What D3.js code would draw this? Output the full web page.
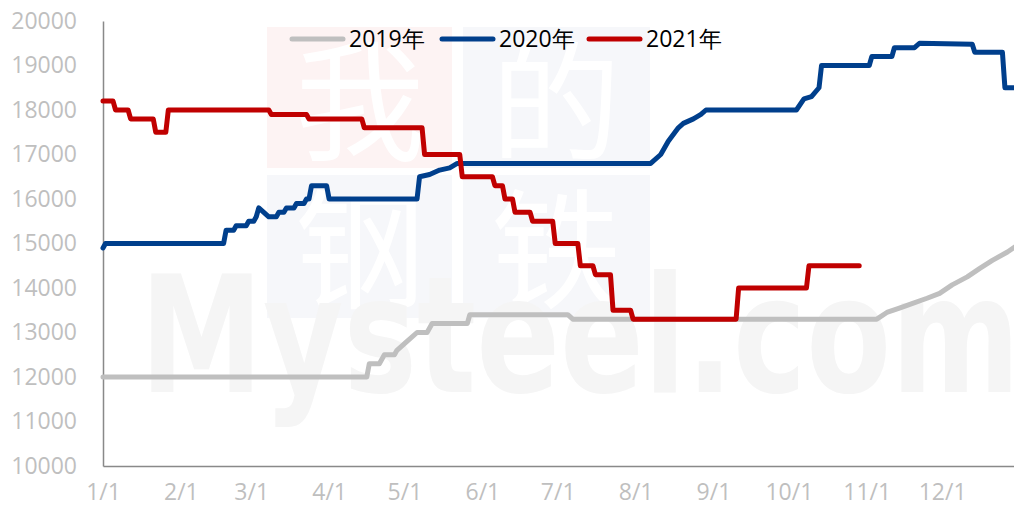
<!DOCTYPE html>
<html>
<head>
<meta charset="utf-8">
<script src="https://cdn.jsdelivr.net/npm/d3@7"></script>
<style>
  body { margin: 0; background: #fff; }
  svg { display: block; }
</style>
</head>
<body>
<svg id="chart" width="1014" height="513"></svg>
<script>
// day-of-year vertices, values in yuan
var series = ["2019年", "2020年", "2021年"];
var colors = ["#bfbfbf", "#003f8c", "#c00000"];

var days2019 = [0, 105, 106, 110, 112, 116, 117, 121, 125, 129, 131, 145, 146, 185, 187, 308, 312, 317, 322, 328, 333, 338, 344, 349, 354, 360, 365];
var vals2019 = [12000, 12000, 12300, 12300, 12500, 12500, 12600, 12800, 13000, 13000, 13200, 13200, 13400, 13400, 13300, 13300, 13450, 13550, 13650, 13770, 13880, 14070, 14250, 14440, 14620, 14810, 15000];

var days2020 = [0, 1, 48, 49, 52, 53, 57, 58, 60, 61, 62, 63, 66, 69, 70, 72, 73, 76, 77, 80, 81, 82, 83, 89, 90, 125, 126, 130, 134, 138, 141, 218, 222, 225, 229, 231, 235, 238, 240, 276, 279, 282, 285, 286, 305, 306, 314, 315, 323, 325, 346, 347, 358, 359, 365];
var vals2020 = [14900, 15000, 15000, 15300, 15300, 15400, 15400, 15500, 15500, 15600, 15800, 15750, 15600, 15600, 15700, 15700, 15800, 15800, 15900, 15900, 16000, 16000, 16300, 16300, 16000, 16000, 16500, 16550, 16650, 16700, 16800, 16800, 17000, 17300, 17600, 17700, 17800, 17900, 18000, 18000, 18250, 18300, 18500, 19000, 19000, 19200, 19200, 19400, 19400, 19500, 19480, 19300, 19300, 18500, 18500];

var days2021 = [0, 4, 5, 10, 11, 20, 21, 25, 26, 66, 67, 81, 82, 103, 104, 127, 128, 142, 143, 155, 156, 159, 160, 163, 164, 170, 171, 179, 180, 189, 190, 195, 196, 202, 203, 210, 211, 252, 253, 280, 281, 301];
var vals2021 = [18200, 18200, 18000, 18000, 17800, 17800, 17500, 17500, 18000, 18000, 17900, 17900, 17800, 17800, 17600, 17600, 17000, 17000, 16500, 16500, 16300, 16300, 16000, 16000, 15700, 15700, 15500, 15500, 15000, 15000, 14500, 14500, 14300, 14300, 13500, 13500, 13300, 13300, 14000, 14000, 14500, 14500];

var tickDays = [0, 31, 59, 90, 120, 151, 181, 212, 243, 273, 304, 334];
var tickLabels = ["1/1", "2/1", "3/1", "4/1", "5/1", "6/1", "7/1", "8/1", "9/1", "10/1", "11/1", "12/1"];
var yTicks = [10000, 11000, 12000, 13000, 14000, 15000, 16000, 17000, 18000, 19000, 20000];

var svg = d3.select("#chart");
var font = "'Open Sans', 'Liberation Sans', sans-serif";

var x = d3.scaleLinear().domain([0, 365]).range([103, 1020]);
var y = d3.scaleLinear().domain([10000, 20000]).range([466, 21]);

// faint watermark behind the chart
var wm = svg.append("g");
wm.append("rect").attr("x", 267).attr("y", 27).attr("width", 185).attr("height", 141).attr("fill", "#fdf3f3");
wm.append("rect").attr("x", 463).attr("y", 27).attr("width", 187).attr("height", 141).attr("fill", "#f6f7fa");
wm.append("rect").attr("x", 267).attr("y", 175).attr("width", 185).attr("height", 143).attr("fill", "#f6f7fa");
wm.append("rect").attr("x", 463).attr("y", 175).attr("width", 187).attr("height", 143).attr("fill", "#f6f7fa");
[["我", 360, 150], ["的", 556, 150], ["钢", 360, 298], ["铁", 556, 298]].forEach(function(c) {
  wm.append("text").attr("x", c[1]).attr("y", c[2]).attr("text-anchor", "middle")
    .attr("font-family", "'Noto Sans CJK SC', sans-serif")
    .attr("font-size", 130).attr("fill", "#ffffff").text(c[0]);
});
wm.append("text").attr("x", 140).attr("y", 392)
  .attr("font-family", "'DejaVu Sans', sans-serif").attr("font-weight", "bold")
  .attr("font-size", 162).attr("fill", "#f5f5f5")
  .attr("textLength", 880).attr("lengthAdjust", "spacingAndGlyphs")
  .text("Mysteel.com");

// axes
var yAxis = svg.append("g").attr("transform", "translate(103,0)")
  .call(d3.axisLeft(y).tickValues(yTicks).tickFormat(d3.format("d")).tickSize(0).tickPadding(26));
yAxis.select(".domain").attr("stroke", "#898989").attr("stroke-width", 1.5);
yAxis.selectAll("text").attr("font-family", font).attr("font-size", 23).attr("fill", "#bfbfbf");

var xAxis = svg.append("g").attr("transform", "translate(0,466)")
  .call(d3.axisBottom(x).tickValues(tickDays).tickFormat(function(d, i) { return tickLabels[i]; }).tickSize(0).tickPadding(18));
xAxis.select(".domain").attr("stroke", "#898989").attr("stroke-width", 1.5);
xAxis.selectAll("text").attr("font-family", font).attr("font-size", 23).attr("fill", "#bfbfbf");

// lines
var line = d3.line()
  .x(function(d) { return x(d[0]); })
  .y(function(d) { return y(d[1]); });

var allDays = [days2019, days2020, days2021];
var allVals = [vals2019, vals2020, vals2021];
allDays.forEach(function(ds, k) {
  var pts = ds.map(function(d, i) { return [d, allVals[k][i]]; });
  svg.append("path").datum(pts)
    .attr("d", line)
    .attr("fill", "none")
    .attr("stroke", colors[k])
    .attr("stroke-width", 5)
    .attr("stroke-linejoin", "round")
    .attr("stroke-linecap", "round");
});

// legend
var legX = [290, 440, 587];
series.forEach(function(s, k) {
  var g = svg.append("g").attr("transform", "translate(" + legX[k] + ",39)");
  g.append("line").attr("x1", 2).attr("x2", 53).attr("y1", 0).attr("y2", 0)
    .attr("stroke", colors[k]).attr("stroke-width", 5).attr("stroke-linecap", "round");
  g.append("text").attr("x", 59).attr("y", 8)
    .attr("font-family", font).attr("font-size", 23).attr("fill", "#000").text(s);
});
</script>
</body>
</html>
